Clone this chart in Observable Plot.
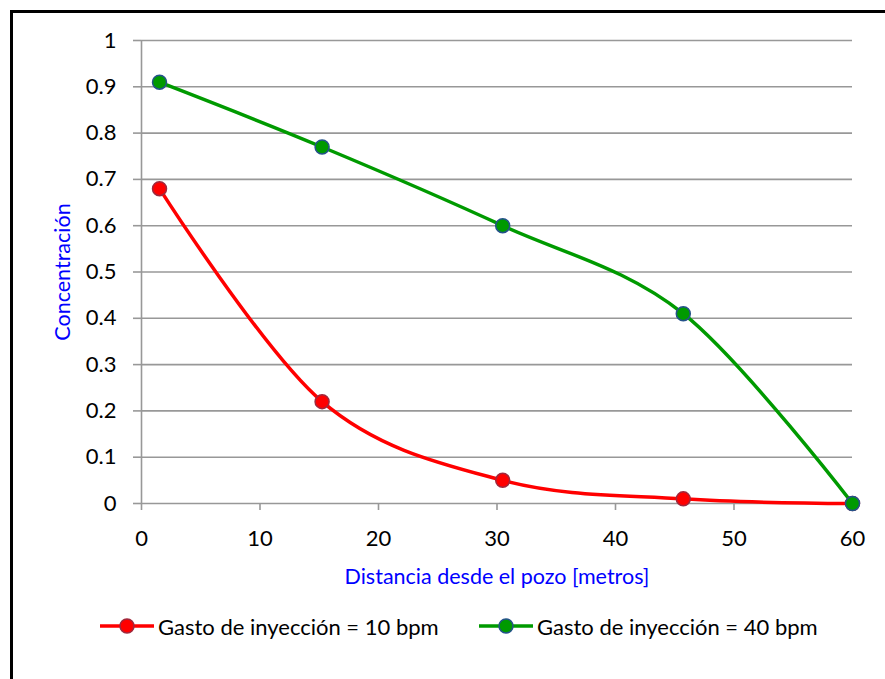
<!DOCTYPE html>
<html>
<head>
<meta charset="utf-8">
<script src="https://cdn.jsdelivr.net/npm/d3@7"></script>
<script src="https://cdn.jsdelivr.net/npm/@observablehq/plot@0.6"></script>
<style>
  html, body { margin: 0; padding: 0; background: #fff; }
  #wrap { position: relative; width: 885px; height: 679px; overflow: hidden; font-family: Lato, "Open Sans", sans-serif; }
  #frame { position: absolute; left: 10px; top: 10px; width: 900px; height: 700px; border-left: 3px solid #000; border-top: 3px solid #000; }
  #chart { position: absolute; left: 0; top: 0; }
  #ytitle { position: absolute; left: 62px; top: 272px; transform: translate(-50%, -50%) rotate(-90deg); color: #0000FF; font-size: 21.5px; white-space: nowrap; }
  .leg { position: absolute; top: 611px; height: 30px; display: flex; align-items: center; font-size: 22px; color: #000; white-space: nowrap; }
  .leg svg { margin-right: 3px; }
</style>
</head>
<body>
<div id="wrap">
  <div id="frame"></div>
  <div id="chart"></div>
  <div id="ytitle"></div>
  <div class="leg" id="leg1" style="left:99px"></div>
  <div class="leg" id="leg2" style="left:478px"></div>
</div>
<script>
const distancia = [1.52, 15.24, 30.48, 45.72, 60];
const conc10 = [0.68, 0.22, 0.05, 0.01, 0];
const conc40 = [0.91, 0.77, 0.60, 0.41, 0];
const seriesNames = ["Gasto de inyección = 10 bpm", "Gasto de inyección = 40 bpm"];
const xTicks = [0, 10, 20, 30, 40, 50, 60];
const yTicks = [0, 0.1, 0.2, 0.3, 0.4, 0.5, 0.6, 0.7, 0.8, 0.9, 1];
const xTitle = "Distancia desde el pozo [metros]";
const yTitle = "Concentración";

const lineColors = ["#FF0000", "#009A00"];
const markerStroke = ["#A0283C", "#24528A"];

const data = [];
distancia.forEach((d, i) => {
  data.push({x: d, y: conc10[i], s: seriesNames[0]});
  data.push({x: d, y: conc40[i], s: seriesNames[1]});
});

const plot = Plot.plot({
  width: 885,
  height: 600,
  marginLeft: 141,
  marginRight: 33,
  marginTop: 40,
  marginBottom: 97,
  style: {fontFamily: "Lato, 'Open Sans', sans-serif", fontSize: "22px", color: "#000", background: "transparent"},
  x: {type: "linear", domain: [0, 60], ticks: xTicks, label: null},
  y: {type: "linear", domain: [0, 1], ticks: yTicks, label: null},
  color: {domain: seriesNames, range: lineColors},
  marks: [
    Plot.ruleY(yTicks, {y: d => d, stroke: "#989898", strokeWidth: 1.6}),
    Plot.ruleX([0], {x: d => d, stroke: "#989898", strokeWidth: 1.6}),
    Plot.axisX({ticks: xTicks, tickSize: 7, tickPadding: 20, stroke: "#989898", strokeWidth: 1.6, color: "#000", fontSize: 22, label: null}),
    Plot.axisY({ticks: yTicks, tickSize: 8, tickPadding: 17, stroke: "#989898", strokeWidth: 1.6, color: "#000", fontSize: 22, label: null, tickFormat: d => String(d)}),
    Plot.line(data, {x: "x", y: "y", z: "s", stroke: "s", strokeWidth: 3.5, curve: "cardinal", tension: 0}),
    Plot.dot(data, {x: "x", y: "y", fill: "s", stroke: d => d.s === seriesNames[0] ? markerStroke[0] : markerStroke[1], strokeWidth: 1.5, r: 7}),
    Plot.text([xTitle], {text: d => d, frameAnchor: "bottom", dy: 80, fill: "#0000FF", fontSize: 21.5})
  ]
});
document.getElementById("chart").appendChild(plot);
document.getElementById("ytitle").textContent = yTitle;

function legendSwatch(i) {
  return `<svg width="56" height="20"><line x1="1" y1="10" x2="55" y2="10" stroke="${lineColors[i]}" stroke-width="3.5"/><circle cx="28" cy="10" r="7" fill="${lineColors[i]}" stroke="${markerStroke[i]}" stroke-width="1.5"/></svg>`;
}
document.getElementById("leg1").innerHTML = legendSwatch(0) + `<span>${seriesNames[0]}</span>`;
document.getElementById("leg2").innerHTML = legendSwatch(1) + `<span>${seriesNames[1]}</span>`;
</script>
</body>
</html>
